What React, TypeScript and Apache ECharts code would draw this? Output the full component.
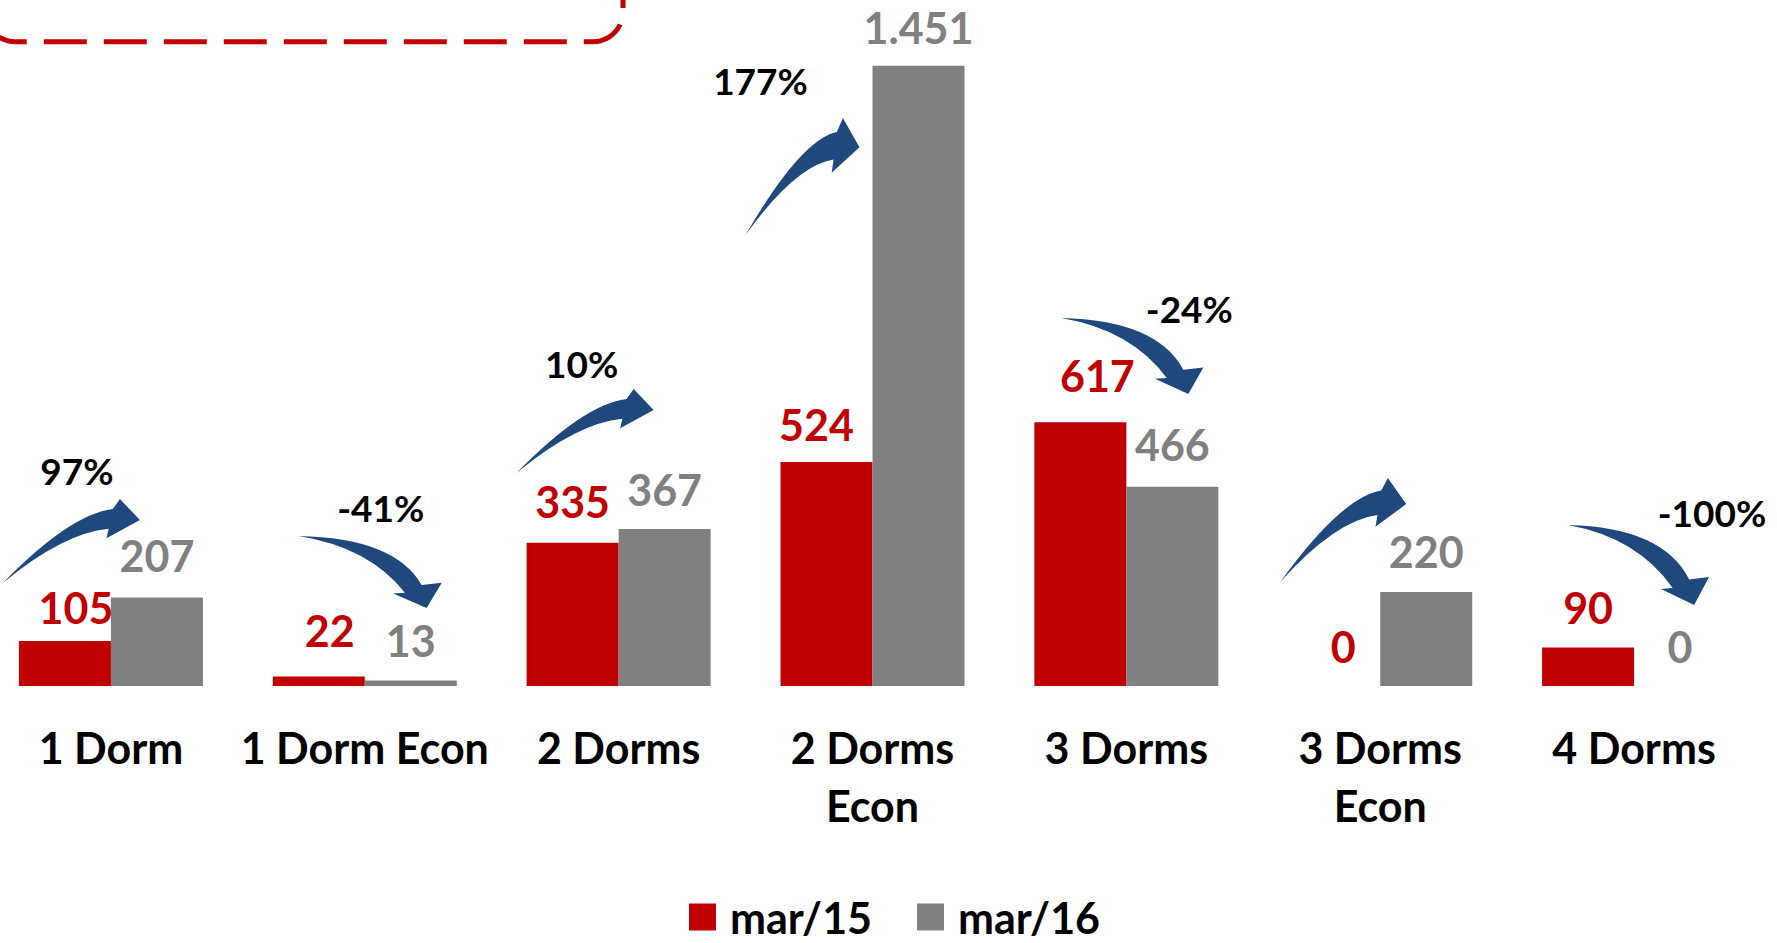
import React, { useEffect, useRef } from "react";
import * as echarts from "echarts";

const categories = ["1 Dorm", "1 Dorm Econ", "2 Dorms", "2 Dorms Econ", "3 Dorms", "3 Dorms Econ", "4 Dorms"];
const mar15 = [105, 22, 335, 524, 617, 0, 90];
const mar16 = [207, 13, 367, 1451, 466, 220, 0];
const seriesNames = ["mar/15", "mar/16"];

const RED = "#C00000";
const GRAY = "#808080";
const BLUE = "#1F497D";
const FONT = "Lato";

// label nudges (layout only), [dx, dy] in px
const redLabelOffset = [[11, 6], [11, -6], [0, -1], [-10, 3], [17, -7], [9, 0], [0, 0]];
const grayLabelOffset = [[0, -2], [0, 0], [0, 0], [0, 2], [0, -2], [0, 0], [0, 0]];

// annotation layout (decorations): arrow boxes relative to category centre
const arrowLayout = [
  { dx: -108, y: 499, w: 137, h: 84 },
  { dx: -66, y: 536, w: 143, h: 72 },
  { dx: -102, y: 389, w: 137, h: 84 },
  { dx: -127, y: 118, w: 114, h: 117 },
  { dx: -65, y: 318, w: 142, h: 76 },
  { dx: -100, y: 478, w: 126, h: 104 },
  { dx: -66, y: 525, w: 141, h: 80 },
];
const pctLayout = [
  { dx: -34, y: 470 },
  { dx: 16, y: 507 },
  { dx: -37, y: 363 },
  { dx: -112, y: 80 },
  { dx: 63, y: 308 },
  { dx: 0, y: 0 },
  { dx: 78, y: 512 },
];

const UP_D = "M0,100 Q48.8,18.3 80.2,12 L85.4,0 L100,25.1 L75.6,46.8 L77.2,35.5 Q43.9,40.6 0,100 Z";
const DOWN_D = "M0,0 Q67.1,2.6 85.9,68 L100,65 L89.4,100 L65.9,79.9 L74.2,78.9 Q49.4,15.8 0,0 Z";

let registered = false;
function registerShapes() {
  if (registered) return;
  registered = true;
  echarts.graphic.registerShape("arrowUp", echarts.graphic.extendPath(UP_D, {}));
  echarts.graphic.registerShape("arrowDown", echarts.graphic.extendPath(DOWN_D, {}));
}

const fmt = (v: number) => String(v).replace(/\B(?=(\d{3})+(?!\d))/g, ".");

export default function App() {
  const ref = useRef<HTMLDivElement>(null);
  useEffect(() => {
    if (!ref.current) return;
    registerShapes();
    const chart = echarts.init(ref.current, null, { renderer: "svg" });
    const labelBase = {
      show: true,
      position: "top",
      distance: 22,
      fontFamily: FONT,
      fontWeight: "bold",
      fontSize: 43,
      lineHeight: 36,
      formatter: (p: any) => fmt(p.value),
    };
    chart.setOption({
      animation: false,
      backgroundColor: "#ffffff",
      grid: { left: -16, right: 16, top: 2, bottom: 257, outerBoundsMode: "none", containLabel: false },
      legend: {
        data: seriesNames,
        left: 689,
        top: 894,
        padding: 0,
        icon: "rect",
        itemWidth: 27,
        itemHeight: 27,
        itemGap: 45,
        textStyle: { fontSize: 43, fontWeight: "bold", fontFamily: FONT, color: "#000", lineHeight: 46, padding: [0, 0, 0, 9] },
      },
      xAxis: {
        type: "category",
        data: categories,
        axisLine: { show: false },
        axisTick: { show: false },
        axisLabel: {
          interval: 0,
          margin: 32,
          fontSize: 43,
          fontWeight: "bold",
          fontFamily: FONT,
          color: "#000",
          lineHeight: 58,
          formatter: (s: string) => (s.length > 11 ? s.replace(/ (\S+)$/, "\n$1") : s),
        },
      },
      yAxis: { type: "value", show: false, min: 0, max: 1600, splitLine: { show: false } },
      series: [
        {
          name: seriesNames[0],
          type: "bar",
          data: mar15.map((v, i) => ({ value: v, label: { offset: redLabelOffset[i] } })),
          barWidth: 92,
          barGap: "0%",
          itemStyle: { color: RED },
          label: { ...labelBase, color: RED },
        },
        {
          name: seriesNames[1],
          type: "bar",
          data: mar16.map((v, i) => ({ value: v, label: { offset: grayLabelOffset[i] } })),
          barWidth: 92,
          barGap: "0%",
          itemStyle: { color: GRAY },
          label: { ...labelBase, color: GRAY },
        },
      ],
    });

    const graphics: any[] = [
      {
        type: "rect",
        shape: { x: -15, y: -100, width: 638, height: 141.7, r: 30 },
        style: { fill: "none", stroke: RED, lineWidth: 5, lineDash: [43, 17] },
        silent: true,
      },
    ];
    categories.forEach((c, i) => {
      const cx = chart.convertToPixel({ xAxisIndex: 0 }, c) as number;
      const a = arrowLayout[i];
      const up = mar16[i] >= mar15[i];
      graphics.push({
        type: up ? "arrowUp" : "arrowDown",
        x: cx + a.dx,
        y: a.y,
        scaleX: a.w / 100,
        scaleY: a.h / 100,
        style: { fill: BLUE },
        silent: true,
      });
      if (mar15[i] > 0) {
        const pct = Math.round((mar16[i] / mar15[i] - 1) * 100);
        const p = pctLayout[i];
        graphics.push({
          type: "text",
          x: cx + p.dx,
          y: p.y,
          style: {
            text: pct + "%",
            fill: "#000",
            font: `bold 37px ${FONT}`,
            textAlign: "center",
            textVerticalAlign: "middle",
          },
          silent: true,
        });
      }
    });
    chart.setOption({ graphic: graphics });

    return () => chart.dispose();
  }, []);
  return (
    <div
      ref={ref}
      style={{ position: "fixed", left: 0, top: 0, width: 1777, height: 943, background: "#fff" }}
    />
  );
}
